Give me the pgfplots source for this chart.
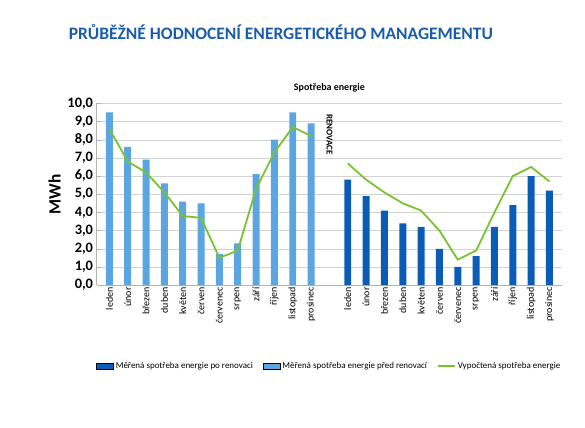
\documentclass[border=0pt]{standalone}
\usepackage{fontspec}
\setmainfont{Carlito}
\usepackage{pgfplots}
\pgfplotsset{compat=1.18}
\definecolor{lightbar}{HTML}{5BA5E1}
\definecolor{darkbar}{HTML}{0B5CB5}
\definecolor{lgreen}{HTML}{7AC231}
\definecolor{titleblue}{HTML}{1A5DAB}
\begin{document}
\begin{tikzpicture}
\useasboundingbox (0,0) rectangle (20.6,15.04);
\node[anchor=north west, font=\bfseries\fontsize{17.5}{21}\selectfont, text=titleblue] at (2.3,14.3) {PRŮBĚŽNÉ HODNOCENÍ ENERGETICKÉHO MANAGEMENTU};
\begin{axis}[
  at={(3.4cm,5.0cm)}, anchor=south west,
  scale only axis, width=16.4cm, height=6.4cm,
  ymin=0, ymax=10, ytick={0,1,...,10},
  xmin=0.3, xmax=25.7,
  xtick={1,2,3,4,5,6,7,8,9,10,11,12,14,15,16,17,18,19,20,21,22,23,24,25},
  xticklabels={leden,únor,březen,duben,květen,červen,červenec,srpen,září,říjen,listopad,prosinec,
               leden,únor,březen,duben,květen,červen,červenec,srpen,září,říjen,listopad,prosinec},
  x tick label style={rotate=90, anchor=east, font=\normalsize, inner sep=2pt},
  y tick label style={font=\Large\bfseries},
  /pgf/number format/fixed, /pgf/number format/fixed zerofill,
  /pgf/number format/precision=1, /pgf/number format/use comma,
  /pgf/number format/assume math mode=true,
  ymajorgrids, grid style={gray!35},
  axis line style={gray!60}, tick style={gray!60},
  axis x line*=bottom, axis y line*=left,
  ylabel={MWh}, ylabel style={font=\bfseries\LARGE},
  title={Spotřeba energie}, title style={font=\bfseries\normalsize, yshift=2pt},
  legend style={at={(axis description cs:0.5,-0.40)}, anchor=north, legend columns=3,
                draw=none, font=\small, /tikz/every even column/.append style={column sep=8pt}},
  legend cell align=left,
]
\addplot[ybar, bar width=7pt, bar shift=0pt, fill=darkbar, draw=none, area legend]
  coordinates {(14,5.8) (15,4.9) (16,4.1) (17,3.4) (18,3.2) (19,2.0) (20,1.0) (21,1.6) (22,3.2) (23,4.4) (24,6.0) (25,5.2)};
\addlegendentry{Měřená spotřeba energie po renovaci}
\addplot[ybar, bar width=7pt, bar shift=0pt, fill=lightbar, draw=none, area legend]
  coordinates {(1,9.5) (2,7.6) (3,6.9) (4,5.6) (5,4.6) (6,4.5) (7,1.7) (8,2.3) (9,6.1) (10,8.0) (11,9.5) (12,8.9)};
\addlegendentry{Měřená spotřeba energie před renovací}
\addplot[lgreen, line width=1.8pt, sharp plot, mark=none]
  coordinates {(1,8.6) (2,6.8) (3,6.2) (4,5.1) (5,3.8) (6,3.7) (7,1.5) (8,1.9) (9,5.3) (10,7.3) (11,8.7) (12,8.2)};
\addlegendentry{Vypočtená spotřeba energie}
\addplot[lgreen, line width=1.8pt, sharp plot, mark=none, forget plot]
  coordinates {(14,6.7) (15,5.8) (16,5.1) (17,4.5) (18,4.1) (19,3.0) (20,1.4) (21,1.9) (22,4.0) (23,6.0) (24,6.5) (25,5.7)};
\node[rotate=-90, font=\bfseries\small, anchor=west] at (axis cs:13,9.6) {RENOVACE};
\end{axis}
\end{tikzpicture}
\end{document}
